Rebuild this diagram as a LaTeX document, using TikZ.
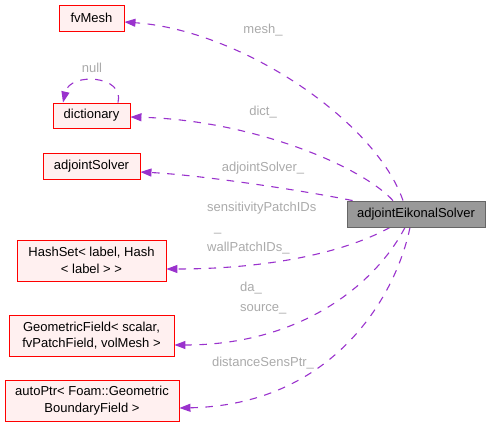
\documentclass[tikz,border=0pt]{standalone}
\usepackage{fontspec}
\setmainfont{Liberation Sans}
\usetikzlibrary{arrows.meta}
\pgfdeclarelayer{bg}
\pgfsetlayers{bg,main}
\definecolor{edgepurple}{HTML}{9A32CD}
\definecolor{boxfill}{HTML}{FFF0F0}
\definecolor{labelgray}{HTML}{AAAAAA}
\tikzset{
    every node/.style={inner sep=0mm, font=\fontsize{13}{16.5}\selectfont, align=center}
}
\tikzset{
    cls/.style={rectangle, draw=red, fill=boxfill, line width=0.9pt},
    solverbox/.style={rectangle, draw=black!60, fill=black!40, line width=0.9pt},
    dep/.style={draw=edgepurple, line width=1.1pt, dash pattern=on 7.5pt off 7.5pt, -{Triangle[length=11pt,width=8pt]}},
    elabel/.style={text=labelgray}
}

\begin{document}
\begin{tikzpicture}[x=1pt, y=-1pt]
        \useasboundingbox (0,0) rectangle (490,427);
        \node (solver) [solverbox, minimum width=138pt, minimum height=26pt] at (416,214) {adjointEikonalSolver};
        \node (mesh) [cls, minimum width=65pt, minimum height=26pt] at (91.5,18) {fvMesh};
        \node (dict) [cls, minimum width=77pt, minimum height=25pt] at (91.5,115.5) {dictionary};
        \node (adjsolver) [cls, minimum width=97pt, minimum height=26pt] at (91.5,166) {adjointSolver};
        \node (hashset) [cls, minimum width=149pt, minimum height=41pt] at (91.5,260.5) {HashSet< label, Hash\\< label > >};
        \node (geomfield) [cls, minimum width=165pt, minimum height=41pt] at (91.5,335.5) {GeometricField< scalar,\\ fvPatchField, volMesh >};
        \node (autoptr) [cls, minimum width=174pt, minimum height=41pt] at (92,400.5) {autoPtr< Foam::Geometric\\BoundaryField >};
        % edge labels
        \node (lmesh) [elabel, anchor=base] at (263,34) {mesh\_};
        \node (lnull) [elabel, anchor=base] at (92,73) {null};
        \node (ldict) [elabel, anchor=base] at (263,116) {dict\_};
        \node (ladj) [elabel, anchor=base] at (263,171.5) {adjointSolver\_};
        \node (lsens) [elabel, anchor=base west] at (207,212) {sensitivityPatchIDs};
        \node (lunder) [elabel, anchor=base west] at (214,232) {\_};
        \node (lwall) [elabel, anchor=base west] at (207,252) {wallPatchIDs\_};
        \node (lda) [elabel, anchor=base west] at (240,292) {da\_};
        \node (lsource) [elabel, anchor=base west] at (240,312) {source\_};
        \node (ldist) [elabel, anchor=base] at (263,366.5) {distanceSensPtr\_};
        \begin{pgfonlayer}{bg}
                \draw [dep] ([xshift=-13pt]solver.north) .. controls (375,120) and (240,30) .. ([yshift=-4pt]mesh.east);
                \draw [dep] ([xshift=-23pt]solver.north) .. controls (360,165) and (250,120) .. ([yshift=-1.5pt]dict.east);
                \draw [dep] ([xshift=6pt]solver.north west) .. controls (300,190) and (200,175) .. ([yshift=-6pt]adjsolver.east);
                \draw [dep] ([xshift=-26pt]solver.south) .. controls (340,255) and (260,269) .. ([yshift=-8.5pt]hashset.east);
                \draw [dep] ([xshift=-11pt]solver.south) .. controls (375,285) and (300,345) .. ([yshift=-9.5pt]geomfield.east);
                \draw [dep] ([xshift=-6pt]solver.south) .. controls (395,300) and (330,405) .. ([yshift=-7.5pt]autoptr.east);
                \draw [dep] ([xshift=26.5pt]dict.north) .. controls (125,75) and (70,72) .. ([xshift=-28.5pt]dict.north);
        \end{pgfonlayer}
\end{tikzpicture}
\end{document}
